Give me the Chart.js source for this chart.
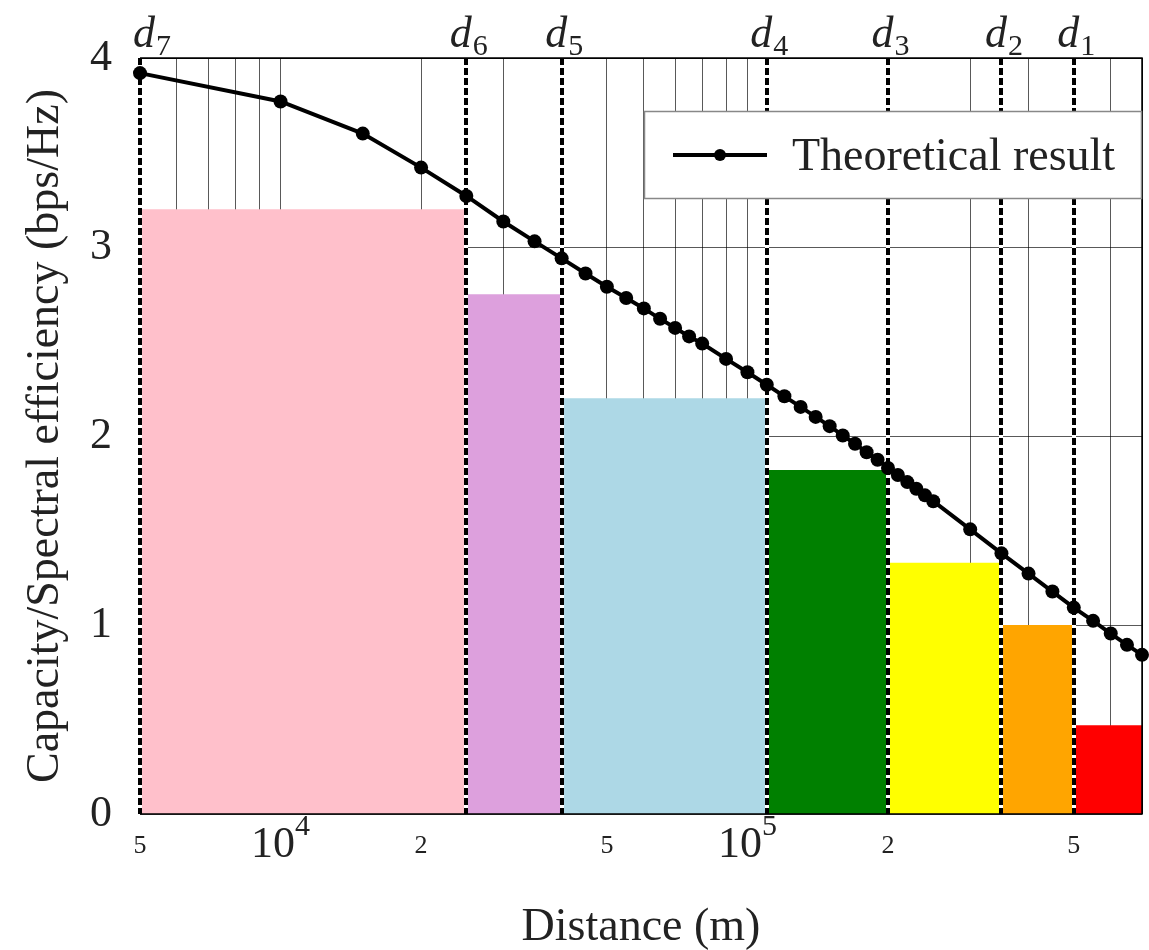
<!DOCTYPE html>
<html>
<head>
<meta charset="utf-8">
<title>Capacity vs distance</title>
<script src="https://cdn.jsdelivr.net/npm/chart.js@4.4.1/dist/chart.umd.min.js"></script>
<style>
  html, body { margin: 0; padding: 0; background: #fff; }
  #wrap { width: 1149px; height: 950px; }
</style>
</head>
<body>
<div id="wrap"><canvas id="chart" width="1149" height="950"></canvas></div>
<script>
// Theoretical capacity curve (distance in metres, capacity in bps/Hz)
const distances = [5000, 10000, 15000, 20000, 25000, 30000, 35000, 40000, 45000, 50000,
  55000, 60000, 65000, 70000, 75000, 80000, 90000, 100000, 110000, 120000,
  130000, 140000, 150000, 160000, 170000, 180000, 190000, 200000, 210000, 220000,
  230000, 240000, 250000, 300000, 350000, 400000, 450000, 500000, 550000, 600000,
  650000, 700000];
const capacity = [3.92, 3.77, 3.60, 3.42, 3.27, 3.135, 3.03, 2.94, 2.86, 2.79,
  2.73, 2.675, 2.62, 2.572, 2.527, 2.489, 2.408, 2.337, 2.271, 2.21,
  2.154, 2.101, 2.052, 2.003, 1.959, 1.914, 1.874, 1.831, 1.794, 1.756,
  1.721, 1.686, 1.655, 1.506, 1.379, 1.272, 1.177, 1.092, 1.022, 0.955,
  0.895, 0.842];

// Spectral-efficiency zones: edges along distance, level of each zone, fill colour
const zoneEdges = [5000, 25000, 40000, 110000, 200000, 350000, 500000, 700000];
const zoneLevels = [3.2, 2.75, 2.2, 1.82, 1.33, 1.0, 0.47];
const zoneColors = ['#FFC0CB', '#DDA0DD', '#ADD8E6', '#008000', '#FFFF00', '#FFA500', '#FF0000'];

// Switching distances d7 ... d1
const thresholds = [5000, 25000, 40000, 110000, 200000, 350000, 500000];
const thresholdIndex = ['7', '6', '5', '4', '3', '2', '1'];

// Axis ticks and grid
const xGridValues = [6000, 7000, 8000, 9000, 10000, 20000, 30000, 40000, 50000, 60000,
  70000, 80000, 90000, 100000, 200000, 300000, 400000, 500000, 600000, 700000];
const xLabelValues = [5000, 10000, 20000, 50000, 100000, 200000, 500000];
const xLabelBase = ['5', '10', '2', '5', '10', '2', '5'];
const xLabelExp = ['', '4', '', '', '5', '', ''];
const yTickValues = [0, 1, 2, 3, 4];

const FONT = "'Liberation Serif', 'Times New Roman', serif";
const TEXT = '#222';

const zoneDatasets = zoneLevels.map((lvl, i) => ({
  label: 'zone' + i,
  data: [{ x: zoneEdges[i], y: lvl }, { x: zoneEdges[i + 1], y: lvl }],
  backgroundColor: zoneColors[i],
  borderWidth: 0,
  pointRadius: 0,
  fill: 'origin',
  order: 2
}));

const curveDataset = {
  label: 'Theoretical result',
  data: distances.map((d, i) => ({ x: d, y: capacity[i] })),
  borderColor: '#000',
  backgroundColor: '#000',
  borderWidth: 4,
  pointRadius: 7,
  pointBorderWidth: 0,
  pointBackgroundColor: '#000',
  fill: false,
  clip: false,
  order: 0
};

const datasets = [...zoneDatasets, curveDataset];
const curveIndex = datasets.length - 1;

const decorations = {
  id: 'decorations',
  beforeDatasetDraw(chart, args) {
    if (args.index !== curveIndex) return;
    const { ctx, chartArea: a, scales: { x } } = chart;
    ctx.save();
    // plot frame
    ctx.strokeStyle = '#000';
    ctx.lineWidth = 1.5;
    ctx.setLineDash([]);
    ctx.beginPath();
    ctx.moveTo(a.left, a.bottom);
    ctx.lineTo(a.right, a.bottom);
    ctx.lineTo(a.right, a.top);
    ctx.lineTo(a.left, a.top);
    ctx.stroke();
    // dashed switching-distance markers
    thresholds.forEach(d => {
      const px = Math.round(x.getPixelForValue(d));
      ctx.setLineDash([]);
      ctx.strokeStyle = '#fff';
      ctx.lineWidth = 4;
      ctx.beginPath(); ctx.moveTo(px, a.top); ctx.lineTo(px, a.bottom); ctx.stroke();
      ctx.setLineDash([7, 3]);
      ctx.strokeStyle = '#000';
      ctx.beginPath(); ctx.moveTo(px, a.top); ctx.lineTo(px, a.bottom); ctx.stroke();
    });
    ctx.restore();
  },
  afterDraw(chart) {
    const { ctx, chartArea: a, scales: { x } } = chart;
    ctx.save();
    ctx.fillStyle = TEXT;

    // legend
    const bx = a.right - 498, by = a.top + 53, bw = 498, bh = 88;
    ctx.fillStyle = '#fff';
    ctx.fillRect(bx, by, bw, bh);
    ctx.strokeStyle = '#888';
    ctx.lineWidth = 1.5;
    ctx.strokeRect(bx + 0.5, by + 0.5, bw - 1, bh - 1);
    const ly = by + 44;
    ctx.strokeStyle = '#000';
    ctx.lineWidth = 4;
    ctx.beginPath(); ctx.moveTo(bx + 29, ly); ctx.lineTo(bx + 123, ly); ctx.stroke();
    ctx.fillStyle = '#000';
    ctx.beginPath(); ctx.arc(bx + 76, ly, 6, 0, Math.PI * 2); ctx.fill();
    ctx.fillStyle = TEXT;
    ctx.font = '46px ' + FONT;
    ctx.textAlign = 'left';
    ctx.textBaseline = 'alphabetic';
    ctx.fillText(chart.data.datasets[curveIndex].label, bx + 148, by + 59);

    // switching-distance labels above the plot
    thresholds.forEach((d, i) => {
      const px = x.getPixelForValue(d);
      ctx.font = 'italic 44px ' + FONT;
      const wd = ctx.measureText('d').width;
      ctx.font = '30px ' + FONT;
      const ws = ctx.measureText(thresholdIndex[i]).width;
      let left = px + 2 - (wd + ws) / 2;
      left = Math.max(left, a.left - 7);
      ctx.font = 'italic 44px ' + FONT;
      ctx.fillText('d', left, a.top - 11);
      ctx.font = '30px ' + FONT;
      ctx.fillText(thresholdIndex[i], left + wd + 1, a.top - 3);
    });

    // x tick labels
    xLabelValues.forEach((v, i) => {
      const px = x.getPixelForValue(v);
      if (xLabelExp[i]) {
        ctx.font = '44px ' + FONT;
        const wb = ctx.measureText(xLabelBase[i]).width;
        ctx.font = '30px ' + FONT;
        const we = ctx.measureText(xLabelExp[i]).width;
        const left = px - (wb + we) / 2;
        ctx.font = '44px ' + FONT;
        ctx.fillText(xLabelBase[i], left, a.bottom + 43);
        ctx.font = '30px ' + FONT;
        ctx.fillText(xLabelExp[i], left + wb, a.bottom + 21);
      } else {
        ctx.font = '26px ' + FONT;
        ctx.textAlign = 'center';
        ctx.fillText(xLabelBase[i], px, a.bottom + 39);
        ctx.textAlign = 'left';
      }
    });

    // axis titles
    ctx.font = '46px ' + FONT;
    ctx.textAlign = 'center';
    ctx.textBaseline = 'alphabetic';
    ctx.fillText('Distance (m)', (a.left + a.right) / 2, 940);
    ctx.translate(58, (a.top + a.bottom) / 2);
    ctx.rotate(-Math.PI / 2);
    ctx.fillText('Capacity/Spectral efficiency (bps/Hz)', 0, 0);
    ctx.restore();
  }
};

new Chart(document.getElementById('chart'), {
  type: 'line',
  data: { datasets },
  options: {
    responsive: false,
    devicePixelRatio: 1,
    animation: false,
    layout: { padding: { top: 58, right: 7, left: 0, bottom: 0 } },
    plugins: { legend: { display: false }, tooltip: { enabled: false } },
    scales: {
      x: {
        type: 'logarithmic',
        min: 5000,
        max: 700000,
        afterBuildTicks: s => { s.ticks = xGridValues.map(v => ({ value: v })); },
        afterFit: s => { s.height = 136; },
        ticks: { display: false },
        grid: {
          color: c => (c.tick && c.tick.value === 700000) ? '#000' : 'rgba(0,0,0,0.65)',
          lineWidth: 1,
          drawTicks: false
        },
        border: { display: false }
      },
      y: {
        type: 'linear',
        min: 0,
        max: 4,
        afterBuildTicks: s => { s.ticks = yTickValues.map(v => ({ value: v })); },
        afterFit: s => { s.width = 140; },
        ticks: { font: { family: FONT, size: 44 }, color: TEXT, padding: 28 },
        grid: {
          color: c => (c.tick && c.tick.value === 4) ? '#000' : 'rgba(0,0,0,0.65)',
          lineWidth: 1,
          drawTicks: false
        },
        border: { display: false }
      }
    }
  },
  plugins: [decorations]
});
</script>
</body>
</html>
